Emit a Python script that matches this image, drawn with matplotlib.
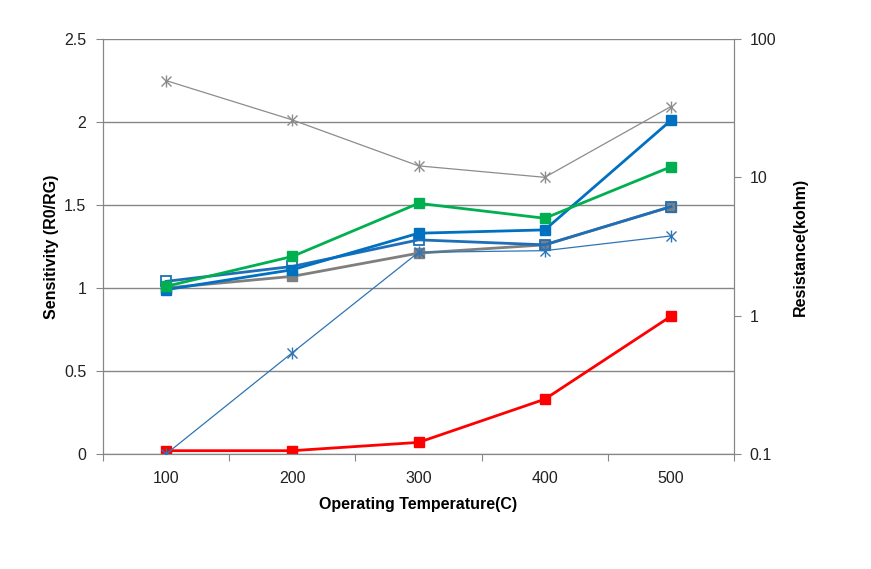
import numpy as np
import matplotlib.pyplot as plt

plt.rcParams['font.family'] = ['Liberation Sans', 'DejaVu Sans']

temps = [100, 200, 300, 400, 500]

# sensitivity (left axis)
sens_red = [0.02, 0.02, 0.07, 0.33, 0.83]
sens_green = [1.01, 1.19, 1.51, 1.42, 1.73]
sens_blue = [0.99, 1.11, 1.33, 1.35, 2.01]
sens_blue_open = [1.04, 1.13, 1.29, 1.26, 1.49]
sens_gray = [1.00, 1.07, 1.21, 1.26, 1.49]

# resistance (right axis, kohm)
res_gray = [50, 26, 12.1, 10, 32.5]
res_blue = [0.1, 0.54, 2.87, 2.95, 3.77]

axis_col = '#868686'

fig = plt.figure(figsize=(8.71, 5.69), dpi=100)
ax = fig.add_axes([0.1183, 0.2021, 0.7245, 0.7294])
ax2 = ax.twinx()

x = np.arange(1, len(temps) + 1)

ax.plot(x, sens_gray, color='#7F7F7F', lw=2, marker='s', ms=7.5, mfc='#7F7F7F', mec='#7F7F7F', zorder=3)
ax.plot(x, sens_blue_open, color='#1F6FB8', lw=2, marker='s', ms=7.5, mfc='none', mec='#1F6FB8', mew=1.3, zorder=4)
ax.plot(x, sens_blue, color='#0070C0', lw=2, marker='s', ms=7.5, mfc='#0070C0', mec='#0070C0', zorder=5)
ax.plot(x, sens_green, color='#00B050', lw=2, marker='s', ms=7.5, mfc='#00B050', mec='#00B050', zorder=5)
ax.plot(x, sens_red, color='#FF0000', lw=2, marker='s', ms=7.5, mfc='#FF0000', mec='#FF0000', zorder=5)

ax2.plot(x, res_blue, color='#2E75B6', lw=0.9, marker='x', ms=7, mew=1, zorder=3)
ax2.plot(x, res_blue, ls='none', color='#2E75B6', marker='|', ms=9, mew=1, zorder=3)
ax2.plot(x, res_gray, color='#8C8C8C', lw=0.9, marker='x', ms=7, mew=1, zorder=3)
ax2.plot(x, res_gray, ls='none', color='#8C8C8C', marker='|', ms=9, mew=1, zorder=3)

ax.set_xlim(0.5, 5.5)
ax.set_ylim(0, 2.5)
ax.set_yticks([0, 0.5, 1, 1.5, 2, 2.5])
ax.set_yticklabels(['0', '0.5', '1', '1.5', '2', '2.5'])
ax.set_xticks(np.arange(0.5, 6, 1))
ax.set_xticklabels([])
ax.set_xticks(x, minor=True)
ax.set_xticklabels([str(t) for t in temps], minor=True)
ax.tick_params(axis='x', which='minor', length=0, pad=12)
ax.tick_params(axis='x', which='major', length=5, color=axis_col)
ax.tick_params(axis='y', length=5, color=axis_col, pad=7)
ax.tick_params(which='both', labelsize=11.5, labelcolor='#222222')
ax.yaxis.grid(True, color=axis_col, lw=1)
ax.set_axisbelow(True)

ax2.set_yscale('log')
ax2.set_ylim(0.1, 100)
ax2.set_yticks([0.1, 1, 10, 100])
ax2.set_yticklabels(['0.1', '1', '10', '100'])
ax2.yaxis.set_minor_locator(plt.NullLocator())
ax2.tick_params(axis='y', length=5, color=axis_col, labelsize=11.5, labelcolor='#222222', pad=6)

for a in (ax, ax2):
    a.spines['top'].set_visible(False)
    for s in ('left', 'right', 'bottom'):
        a.spines[s].set_color(axis_col)

ax.set_xlabel('Operating Temperature(C)', fontsize=11.5, fontweight='bold', labelpad=8)
ax.set_ylabel('Sensitivity (R0/RG)', fontsize=11.5, fontweight='bold', labelpad=4)
ax2.set_ylabel('Resistance(kohm)', fontsize=11.5, fontweight='bold', labelpad=12)

fig.savefig('out.png', dpi=100)
